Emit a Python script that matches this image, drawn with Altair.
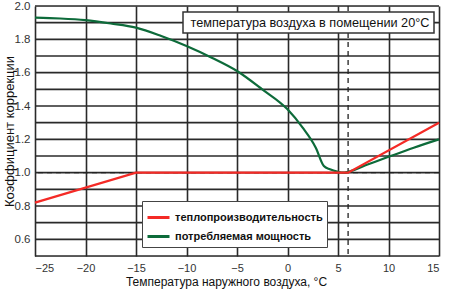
import altair as alt
import pandas as pd

# Data
heat_x = [-25, -15, 6, 15]
heat_y = [0.82, 1.0, 1.0, 1.3]

power_x = [-25, -22.5, -20, -17.5, -15, -12.5, -10, -7.5, -5, -2.5, 0, 1.5, 2.8, 3.6, 4.2, 5.0, 5.5, 6.0, 8.0, 10.0, 12.5, 15]
power_y = [1.93, 1.925, 1.915, 1.895, 1.87, 1.82, 1.76, 1.69, 1.61, 1.50, 1.38, 1.27, 1.15, 1.04, 1.02, 1.005, 1.0, 1.005, 1.05, 1.095, 1.15, 1.2]

series_names = ["теплопроизводительность", "потребляемая мощность"]
series_colors = ["#f42a26", "#0d6b3a"]

ref_y = [1.0]
ref_x = [6]

note_text = "температура воздуха в помещении 20°C"

x_ticks = [-25, -20, -15, -10, -5, 0, 5, 10, 15]
y_labels = [0.6, 0.8, 1.0, 1.2, 1.4, 1.6, 1.8, 2.0]
y_grid = [0.5, 0.6, 0.7, 0.8, 0.9, 1.0, 1.1, 1.2, 1.3, 1.4, 1.5, 1.6, 1.7, 1.8, 1.9, 2.0]

heat_df = pd.DataFrame({"t": heat_x, "k": heat_y, "s": series_names[0]})
power_df = pd.DataFrame({"t": power_x, "k": power_y, "s": series_names[1]})

FONT = "Liberation Sans"
GRID = "#2a2a2a"

xscale = alt.Scale(domain=[-25, 15], nice=False, zero=False)
yscale = alt.Scale(domain=[0.5, 2.0], nice=False, zero=False)

xaxis = alt.Axis(values=x_ticks, title="Температура наружного воздуха, °C", grid=True,
                 gridColor=GRID, gridWidth=1.6, domain=False, ticks=False, format="d",
                 labelFont=FONT, labelFontSize=11, labelColor="#333", labelPadding=6,
                 labelOverlap=False,
                 titleFont=FONT, titleFontSize=12, titleFontWeight="normal", titleColor="#111",
                 titlePadding=3, titleX=191)
yaxis = alt.Axis(values=y_labels, title="Коэффициент коррекции", grid=False,
                 domain=False, ticks=False, format=".1f", labelOverlap=False,
                 labelFont=FONT, labelFontSize=11.5, labelColor="#333", labelPadding=5,
                 titleFont=FONT, titleFontSize=13, titleFontWeight="normal", titleColor="#111",
                 titleX=-26, titleY=125, titleBaseline="middle", titleAlign="center", titleAngle=270)

X = lambda f: alt.X(f, scale=xscale, axis=xaxis)
Y = lambda f: alt.Y(f, scale=yscale, axis=yaxis)

color = alt.Color("s:N", scale=alt.Scale(domain=series_names, range=series_colors),
                  legend=alt.Legend(orient="none", legendX=107, legendY=195, title=None,
                                    strokeColor="#444", fillColor="white", padding=4,
                                    symbolType="stroke", symbolStrokeWidth=3, symbolSize=484,
                                    labelFont=FONT, labelFontWeight="bold", labelFontSize=11,
                                    labelColor="#111", labelOffset=4, rowPadding=-4))

hgrid = alt.Chart(pd.DataFrame({"k": y_grid})).mark_rule(
    color=GRID, strokeWidth=1.6).encode(y=Y("k:Q"))

green = alt.Chart(power_df).mark_line(strokeWidth=2.2, interpolate="monotone").encode(
    x=X("t:Q"), y=Y("k:Q"), color=color)
red = alt.Chart(heat_df).mark_line(strokeWidth=2.2).encode(
    x=X("t:Q"), y=Y("k:Q"), color=color)

hline = alt.Chart(pd.DataFrame({"k": ref_y})).mark_rule(
    color="#222", strokeWidth=1.3, strokeDash=[5, 4]).encode(y=Y("k:Q"))
vline = alt.Chart(pd.DataFrame({"t": ref_x})).mark_rule(
    color="#222", strokeWidth=1.3, strokeDash=[5, 4]).encode(x=X("t:Q"))

note_box = alt.Chart(pd.DataFrame({"a": [0]})).mark_rect(
    fill="white", stroke="#333", strokeWidth=1.5).encode(
    x=alt.value(148), x2=alt.value(399), y=alt.value(6), y2=alt.value(27))
note = alt.Chart(pd.DataFrame({"a": [note_text]})).mark_text(
    font=FONT, fontSize=12.7, color="#111", align="center", baseline="middle").encode(
    x=alt.value(275), y=alt.value(17), text="a:N")

chart = alt.layer(hgrid, hline, vline, green, red, note_box, note).properties(
    width=404, height=250,
    autosize=alt.AutoSizeParams(type="none"),
    padding={"left": 35, "top": 6, "right": 11, "bottom": 34},
).configure_view(stroke=GRID, strokeWidth=1.6).configure(background="white")

chart.save("out.html", embed_options={"renderer": "svg", "actions": False})
